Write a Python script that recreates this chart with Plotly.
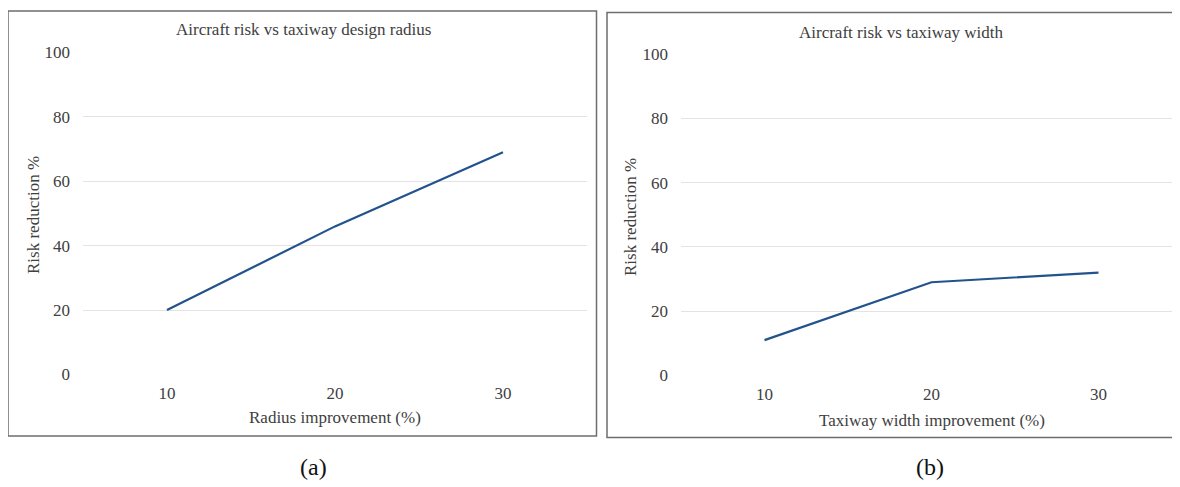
import plotly.graph_objects as go

OFF = 8  # page body margin
W, H = 1180 - OFF, 487 - OFF

x_improve = [10, 20, 30]
radius_risk = [20, 46, 69]
width_risk = [11, 29, 32]
y_ticks = [0, 20, 40, 60, 80, 100]

title_a = "Aircraft risk vs taxiway design radius"
title_b = "Aircraft risk vs taxiway width"
xtitle_a = "Radius improvement (%)"
xtitle_b = "Taxiway width improvement (%)"
ytitle = "Risk reduction %"

FONT = "Liberation Serif, Times New Roman, serif"
LINE = "#23538d"
GRID = "#e3e3e3"
TXT = "#404040"


def px(x):
    return (x - OFF) / W


def py(y):
    return 1 - (y - OFF) / H


fig = go.Figure()
fig.add_trace(go.Scatter(x=x_improve, y=radius_risk, mode="lines",
                         line=dict(color=LINE, width=2.2), xaxis="x", yaxis="y",
                         showlegend=False))
fig.add_trace(go.Scatter(x=x_improve, y=width_risk, mode="lines",
                         line=dict(color=LINE, width=2.2), xaxis="x2", yaxis="y2",
                         showlegend=False))

xcommon = dict(tickvals=x_improve, ticktext=[str(v) for v in x_improve],
               showgrid=False, zeroline=False, showline=False, ticks="",
               automargin=False,
               tickfont=dict(family=FONT, size=17, color=TXT), ticklabelstandoff=6)
ycommon = dict(tickvals=y_ticks, range=[0, 100], showgrid=True, gridcolor=GRID,
               gridwidth=1.3, zeroline=False, showline=False, ticks="",
               automargin=False,
               tickfont=dict(family=FONT, size=17, color=TXT), ticklabelstandoff=12)

# right panel: ticks at 765/932/1099 px, plot area runs to the window edge
r_end = 5 + (1180 - 681) / 16.7

fig.update_layout(
    width=W, height=H,
    margin=dict(l=0, r=0, t=0, b=0, pad=0, autoexpand=False),
    paper_bgcolor="white", plot_bgcolor="white",
    xaxis=dict(domain=[px(83), px(587)], range=[5, 35], anchor="y", **xcommon),
    yaxis=dict(domain=[py(374.5), py(52.5)], anchor="x", **ycommon),
    xaxis2=dict(domain=[px(681), 1.0], range=[5, r_end], anchor="y2", **xcommon),
    yaxis2=dict(domain=[py(375.5), py(54)], anchor="x2", **ycommon),
)

shapes = [
    dict(type="rect", xref="paper", yref="paper",
         x0=px(8), x1=px(596.5), y0=py(436), y1=py(11),
         line=dict(color="#6e6e6e", width=1.5)),
    dict(type="rect", xref="paper", yref="paper",
         x0=px(607), x1=px(1200), y0=py(437.5), y1=py(12.5),
         line=dict(color="#6e6e6e", width=1.5)),
]
fig.update_layout(shapes=shapes)


def ann(text, x, y, size, rot=0, color=TXT):
    fig.add_annotation(text=text, xref="paper", yref="paper", x=px(x), y=py(y),
                       xanchor="center", yanchor="middle", showarrow=False,
                       textangle=rot, font=dict(family=FONT, size=size, color=color))


ann(title_a, 303, 30, 17)
ann(title_b, 901, 32, 17)
ann(xtitle_a, 335, 417, 17)
ann(xtitle_b, 932, 420, 17)
ann(ytitle, 33, 215, 17, rot=-90)
ann(ytitle, 630, 217, 17, rot=-90)
ann("(a)", 313, 467, 24, color="#111111")
ann("(b)", 930, 467, 24, color="#111111")

fig.write_html("out.html")
